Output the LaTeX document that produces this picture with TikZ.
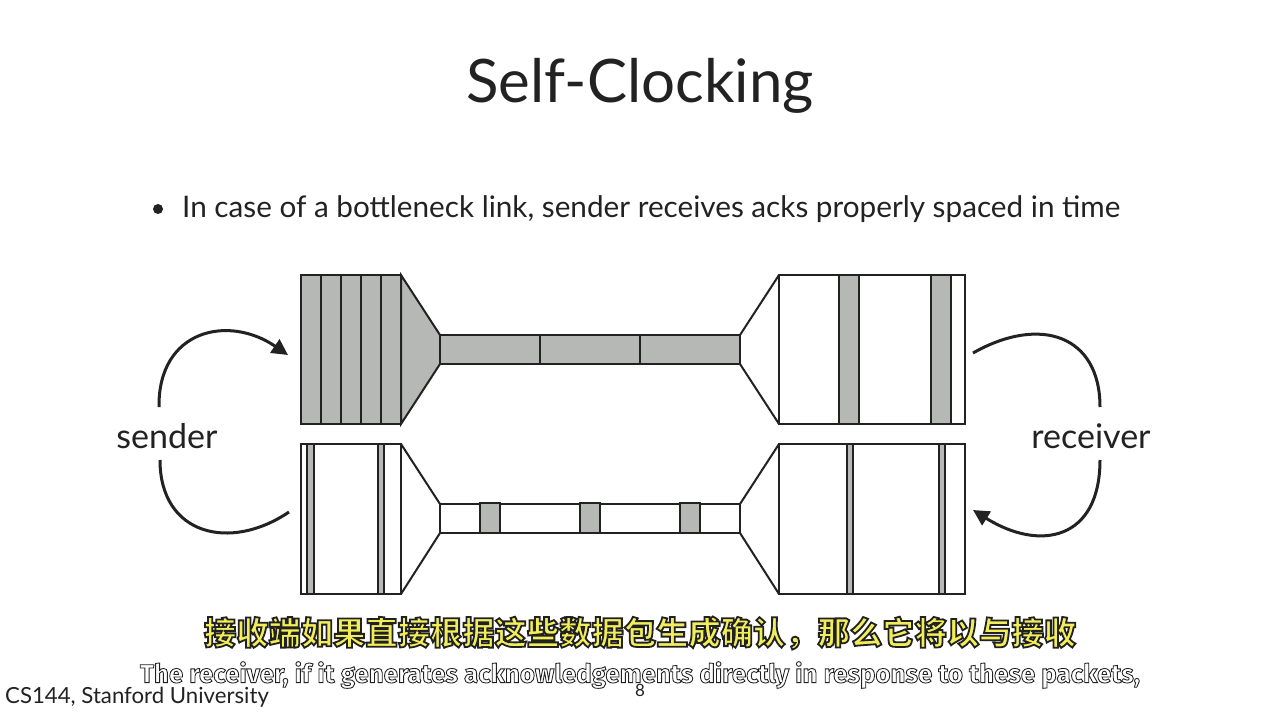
\documentclass[tikz,border=0pt]{standalone}
\usepackage{fontspec}
\usepackage{graphicx}
\setmainfont{Lato}
\newfontfamily\cjk{Noto Sans CJK SC}
\newfontfamily\subf{Fira Sans}
\usetikzlibrary{arrows.meta}
\definecolor{pk}{HTML}{B6B8B5}
\definecolor{ink}{HTML}{222222}
\definecolor{subyel}{HTML}{F2EE5A}
% outlined text: fill colour #1, stroke width #2, text #3
\newcommand\olt[3]{{\color{#1}\special{pdf:literal direct 2 Tr #2 w 0.13 0.13 0.13 RG}#3\special{pdf:literal direct 0 Tr}}}
\tikzset{
  blk/.style={draw=ink, line width=2pt, line join=miter},
  pkt/.style={blk, fill=pk},
  loop/.style={draw=ink, line width=3pt},
  loopar/.style={loop, -{Triangle[length=16pt,width=16pt]}},
  lbl/.style={text=ink, font=\fontsize{34}{38}\selectfont, inner sep=0pt},
}
\begin{document}
\begin{tikzpicture}[x=1pt,y=-1pt]
\useasboundingbox[fill=white] (0,0) rectangle (1280,720);
% title and bullet
\node[text=ink, font=\fontsize{60}{64}\selectfont, inner sep=0pt] (title) at (640,86) {Self-Clocking};
\fill[ink] (158,209) circle (5);
\node[text=ink, font=\fontsize{29.7}{33}\selectfont, inner sep=0pt, anchor=west] (bullet) at (182,209) {In case of a bottleneck link, sender receives acks properly spaced in time};
% ---- top row (data) ----
\draw[pkt] (301,275) rectangle (401,424);
\foreach \x in {321,341,361,381} \draw[blk] (\x,275) -- (\x,424);
\draw[pkt] (401,275) -- (440,335) -- (440,364) -- (401,424) -- cycle;
\draw[pkt] (440,335) rectangle (740,364);
\foreach \x in {540,640} \draw[blk] (\x,335) -- (\x,364);
\draw[blk] (740,335) -- (779,275);
\draw[blk] (740,364) -- (779,424);
\draw[blk] (779,275) rectangle (965,424);
\draw[pkt] (839,275) rectangle (859,424);
\draw[pkt] (931,275) rectangle (951,424);
% ---- bottom row (acks) ----
\draw[blk] (301,444) rectangle (401,594);
\draw[pkt] (307,444) rectangle (314,594);
\draw[pkt] (378,444) rectangle (384,594);
\draw[blk] (401,444) -- (440,504);
\draw[blk] (401,594) -- (440,533);
\draw[blk] (440,504) rectangle (740,533);
\foreach \x in {480,580,680} \draw[pkt] (\x,503) rectangle (\x+20,533);
\draw[blk] (740,504) -- (779,444);
\draw[blk] (740,533) -- (779,594);
\draw[blk] (779,444) rectangle (965,594);
\draw[pkt] (847,444) rectangle (853,594);
\draw[pkt] (939,444) rectangle (945,594);
% ---- labels and loops ----
\node[lbl] (sender) at (167,436) {sender};
\node[lbl] (receiver) at (1091,436) {receiver};
\coordinate (s1) at (159,407); \coordinate (s2) at (288,355);
\coordinate (s3) at (160,460); \coordinate (s4) at (289,512);
\coordinate (r1) at (973,353); \coordinate (r2) at (1100,407);
\coordinate (r3) at (1100,460); \coordinate (r4) at (973,510);
\draw[loopar] (s1) .. controls (158,330) and (228,314) .. (s2);
\draw[loop] (s3) .. controls (160,535) and (230,552) .. (s4);
\draw[loop] (r1) .. controls (1040,315) and (1100,335) .. (r2);
\draw[loopar] (r3) .. controls (1100,540) and (1040,552) .. (r4);
% ---- subtitles and footer ----
\node[inner sep=0pt, font=\cjk\bfseries\fontsize{32.3}{36}\selectfont] (subzh) at (640,633) {\olt{subyel}{1.8}{接收端如果直接根据这些数据包生成确认，那么它将以与接收}};
\node[inner sep=0pt, font=\subf\bfseries\fontsize{27}{30}\selectfont] (suben) at (640,675) {\resizebox{1000pt}{!}{\olt{white}{0.9}{The receiver, if it generates acknowledgements directly in response to these packets,}}};
\node[text=ink, font=\fontsize{22.2}{25}\selectfont, inner sep=0pt, anchor=west] (foot) at (5,697) {CS144, Stanford University};
\node[text=ink, font=\fontsize{17}{20}\selectfont, inner sep=0pt] (pg) at (640,690) {8};
\end{tikzpicture}
\end{document}
